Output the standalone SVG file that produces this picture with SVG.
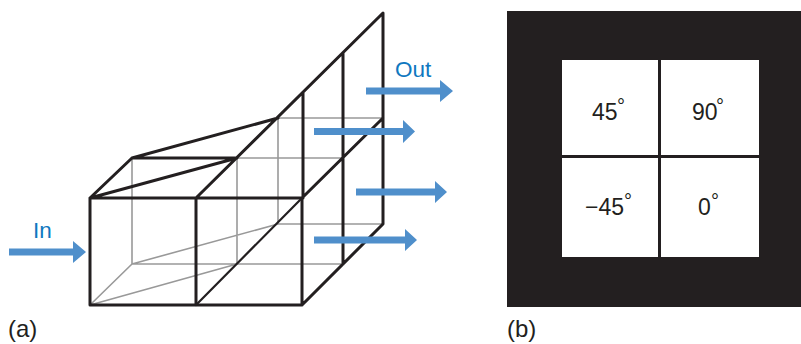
<svg xmlns="http://www.w3.org/2000/svg" width="801" height="344" viewBox="0 0 801 344">
<defs>
<style>
text{font-family:"Liberation Sans",Arial,sans-serif}
.lab{font-size:24px;fill:#231f20}
.blue{font-size:22.500px;fill:#0f78c0}
.val{font-size:23px;fill:#231f20}
.deg{font-size:20px;fill:#231f20}
.g{stroke:#999;stroke-width:1.6;fill:none}
.k{stroke:#231f20;stroke-width:3;fill:none;stroke-linecap:round;stroke-linejoin:round}
.k2{stroke:#231f20;stroke-width:2.200;fill:none;stroke-linecap:round}
.arrow{fill:#4f8fcb}
</style>
</defs>
<rect width="801" height="344" fill="#fff"/>
<g id="connectors">
<path class="g" d="M132 158V264M237 158V264M278 118V224M132 264H343M278 224H383M237 158H343M278 118H383M90 305L132 264M90 305L237 264M132 264L278 224"/>
<path class="k" d="M90 198H302V305H90ZM196 198V305M90 198L132 158H237M132 158L278 118M90 198L237 158M196 198L383 13V224L302 305M343 53V264M303 93V198M302 198L383 118"/>
<path class="k2" d="M196 305L302 198"/>
</g>
<g id="arrow-in"><path class="arrow" d="M9 248.500H73V241L86 252L73 263V255.500H9Z"/><text class="blue" x="33" y="238">In</text></g>
<g id="arrow-out-1"><path class="arrow" d="M366 87.500H440V80L453 91L440 102V94.500H366Z"/><text class="blue" x="395" y="77">Out</text></g>
<g id="arrow-out-2"><path class="arrow" d="M314 128H403V120L415 131.500L403 143V135H314Z"/></g>
<g id="arrow-out-3"><path class="arrow" d="M356 188.500H435V181L447 192L435 203V195.500H356Z"/></g>
<g id="arrow-out-4"><path class="arrow" d="M314 236.500H405V229L417 240L405 251V243.500H314Z"/></g>
<text id="label-a" class="lab" x="8" y="337">(a)</text>
<g id="panel-b">
<rect x="507" y="11" width="294" height="296" fill="#231f20"/>
<rect x="562" y="60" width="96" height="95" fill="#fff"/>
<rect x="661" y="60" width="98" height="95" fill="#fff"/>
<rect x="562" y="158" width="96" height="99" fill="#fff"/>
<rect x="661" y="158" width="98" height="99" fill="#fff"/>
<text class="val" x="592" y="120">45</text><text class="deg" x="617" y="113">°</text>
<text class="val" x="692" y="120">90</text><text class="deg" x="716" y="113">°</text>
<text class="val" x="585" y="215">−45</text><text class="deg" x="624" y="208">°</text>
<text class="val" x="698" y="215">0</text><text class="deg" x="711" y="208">°</text>
</g>
<text id="label-b" class="lab" x="507" y="337">(b)</text>
</svg>
